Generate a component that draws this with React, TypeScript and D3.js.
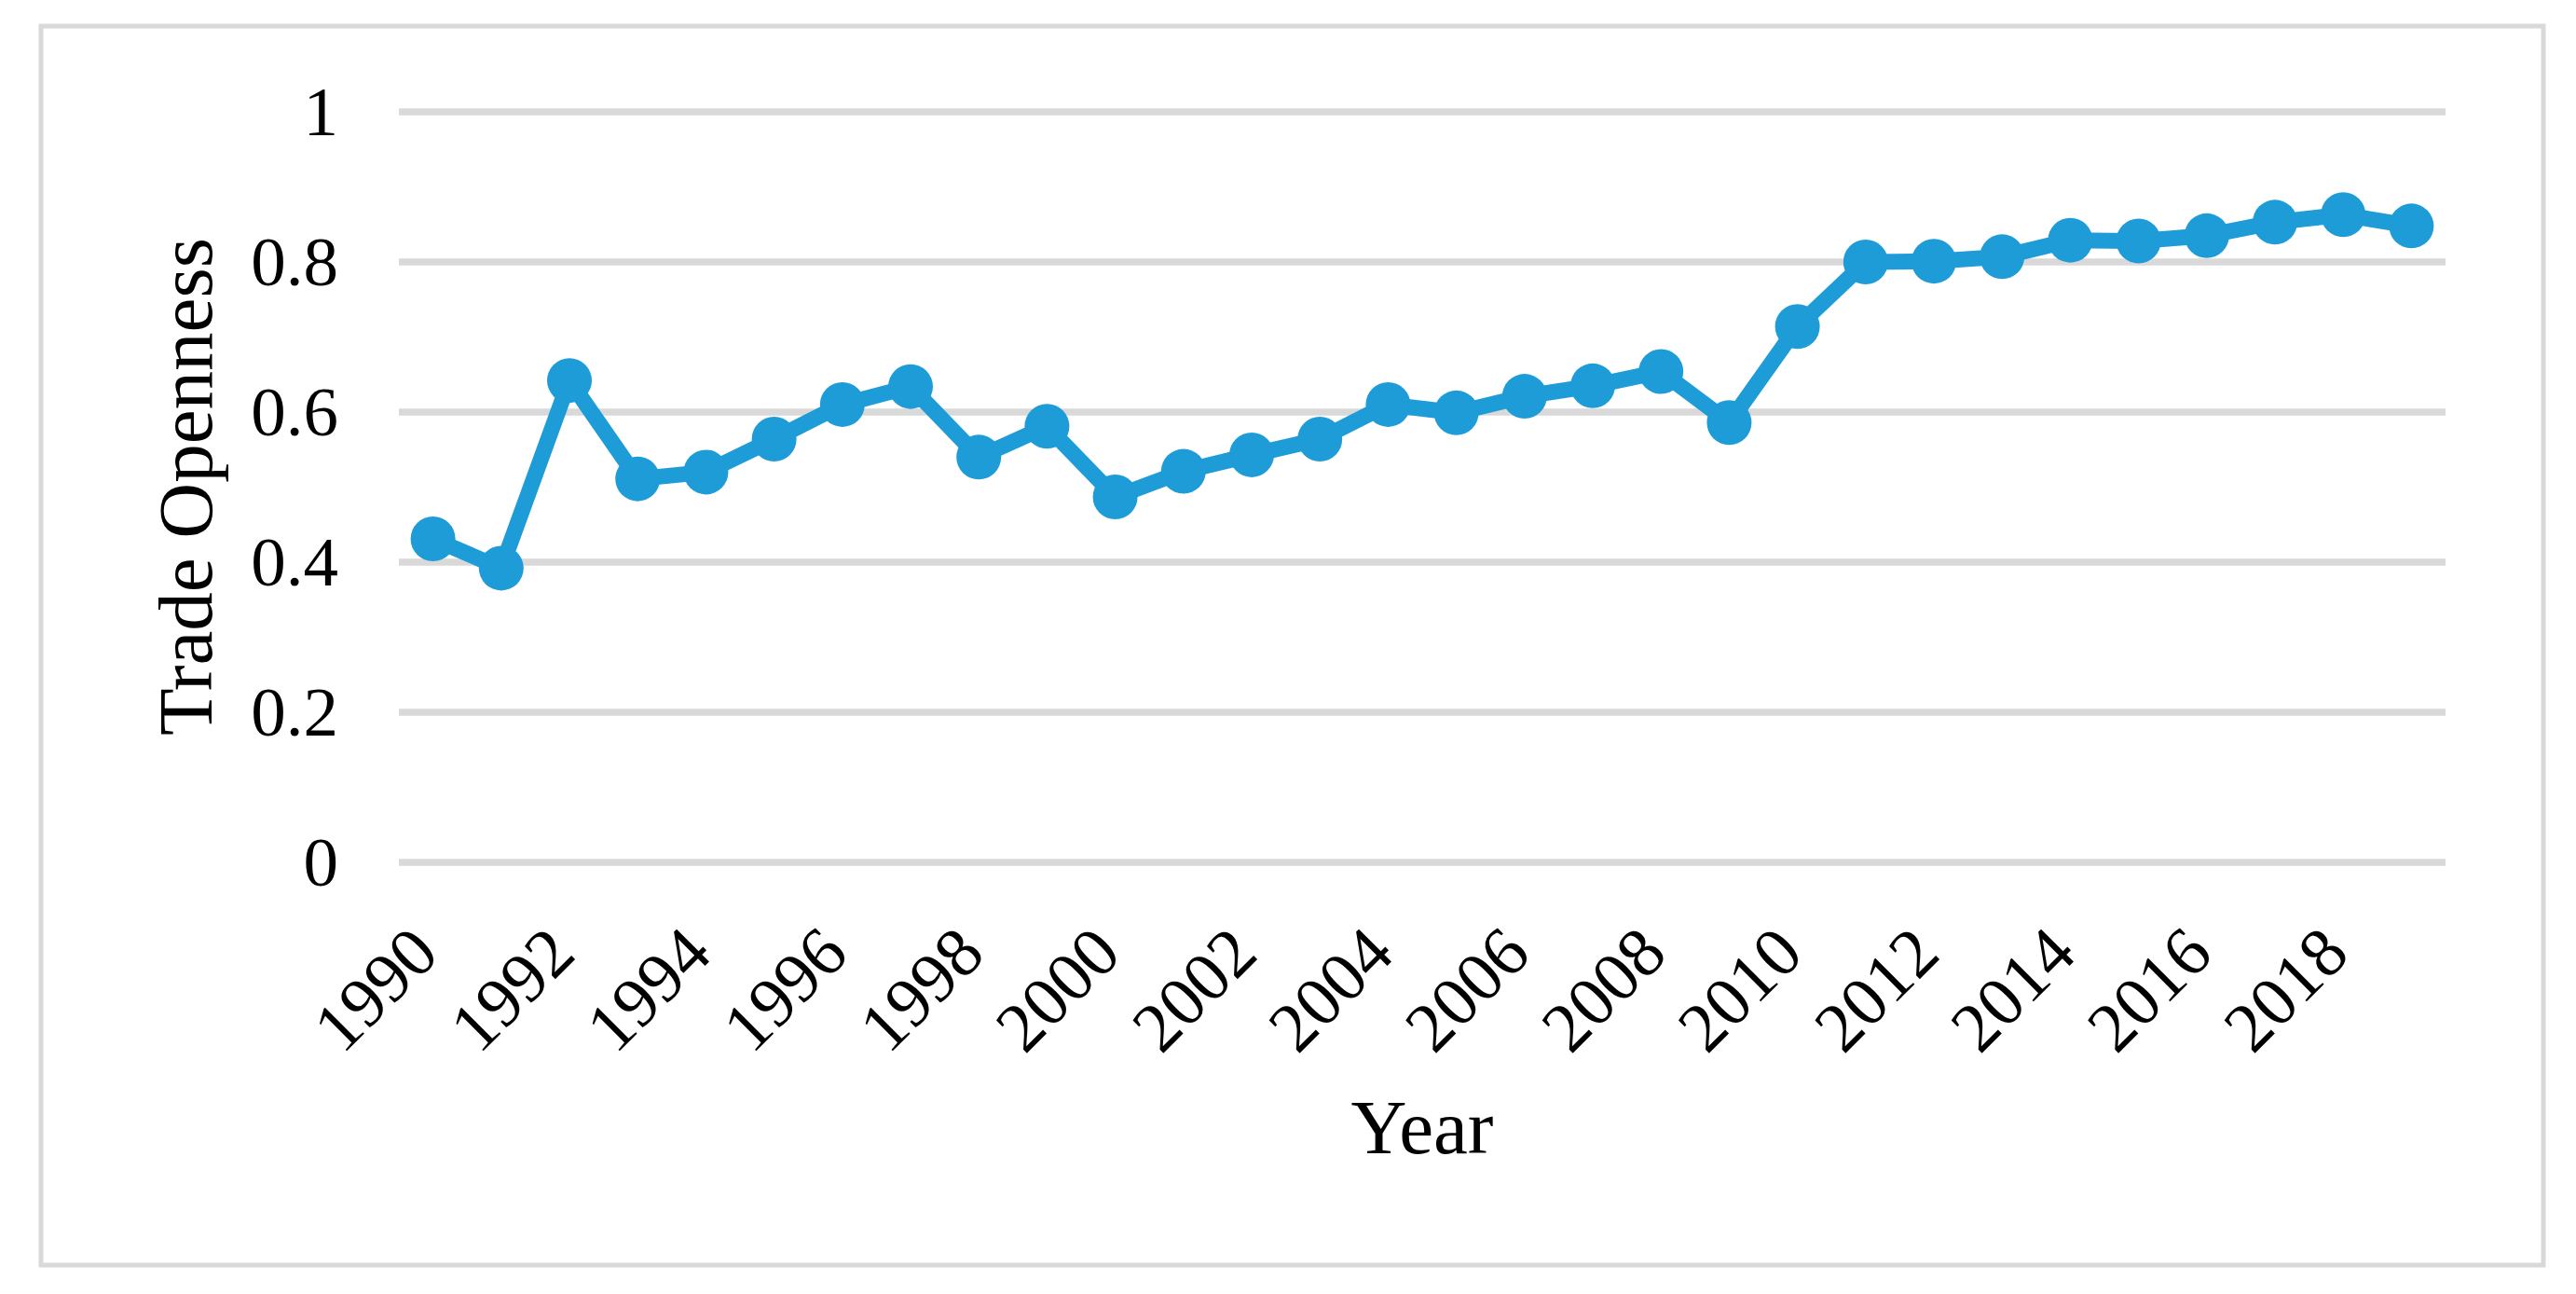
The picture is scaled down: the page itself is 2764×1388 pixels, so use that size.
import * as d3 from 'd3';
import React, { useRef, useEffect } from 'react';

const years = d3.range(1990, 2020).map(String);
const tradeOpenness = [
  0.431, 0.392, 0.642, 0.511, 0.52, 0.564, 0.61, 0.634, 0.54, 0.581,
  0.487, 0.521, 0.543, 0.564, 0.61, 0.599, 0.621, 0.635, 0.654, 0.586,
  0.714, 0.8, 0.801, 0.807, 0.829, 0.828, 0.835, 0.853, 0.863, 0.848,
];
const yTicks = [0, 0.2, 0.4, 0.6, 0.8, 1];
const xTickLabels = years.filter((y, i) => i % 2 === 0);

const W = 2764;
const H = 1388;
const FONT = '"Liberation Serif", "Times New Roman", serif';
const BLUE = '#1e9cd8';
const GRID = '#d9d9d9';

const TradeChart = () => {
  const ref = useRef<SVGSVGElement>(null);

  useEffect(() => {
    const svg = d3.select(ref.current);
    svg.selectAll('*').remove();

    const x = d3.scaleBand().domain(years).range([428, 2624]).paddingInner(0).paddingOuter(0);
    const y = d3.scaleLinear().domain([0, 1]).range([925, 120]);
    const cx = (d: string) => (x(d) as number) + x.bandwidth() / 2;

    // outer frame
    svg.append('rect')
      .attr('x', 44).attr('y', 28)
      .attr('width', 2685).attr('height', 1329)
      .attr('fill', 'white')
      .attr('stroke', GRID)
      .attr('stroke-width', 5);

    // gridlines
    svg.append('g').selectAll('line').data(yTicks).enter().append('line')
      .attr('x1', 428).attr('x2', 2624)
      .attr('y1', (d) => y(d)).attr('y2', (d) => y(d))
      .attr('stroke', GRID)
      .attr('stroke-width', 7.5);

    // y tick labels
    svg.append('g').selectAll('text').data(yTicks).enter().append('text')
      .attr('x', 363)
      .attr('y', (d) => y(d) + 25)
      .attr('text-anchor', 'end')
      .attr('font-family', FONT)
      .attr('font-size', 75)
      .text((d) => String(d));

    // x tick labels
    svg.append('g').selectAll('text').data(xTickLabels).enter().append('text')
      .attr('transform', (d) => `translate(${cx(d) + 9},1026) rotate(-45)`)
      .attr('text-anchor', 'end')
      .attr('font-family', FONT)
      .attr('font-size', 75)
      .text((d) => d);

    // axis titles
    svg.append('text')
      .attr('transform', 'translate(227,522) rotate(-90)')
      .attr('text-anchor', 'middle')
      .attr('font-family', FONT)
      .attr('font-size', 83)
      .text('Trade Openness');

    svg.append('text')
      .attr('x', 1526).attr('y', 1237)
      .attr('text-anchor', 'middle')
      .attr('font-family', FONT)
      .attr('font-size', 83)
      .text('Year');

    // line + markers
    const line = d3.line<number>()
      .x((d, i) => cx(years[i]))
      .y((d) => y(d));

    svg.append('path')
      .datum(tradeOpenness)
      .attr('d', line)
      .attr('fill', 'none')
      .attr('stroke', BLUE)
      .attr('stroke-width', 17)
      .attr('stroke-linejoin', 'round');

    svg.append('g').selectAll('circle').data(tradeOpenness).enter().append('circle')
      .attr('cx', (d, i) => cx(years[i]))
      .attr('cy', (d) => y(d))
      .attr('r', 24)
      .attr('fill', BLUE);
  }, []);

  return (
    <svg
      ref={ref}
      width={W}
      height={H}
      style={{ position: 'absolute', left: 0, top: 0, background: 'white' }}
    />
  );
};

export default function App() {
  return <TradeChart />;
}
